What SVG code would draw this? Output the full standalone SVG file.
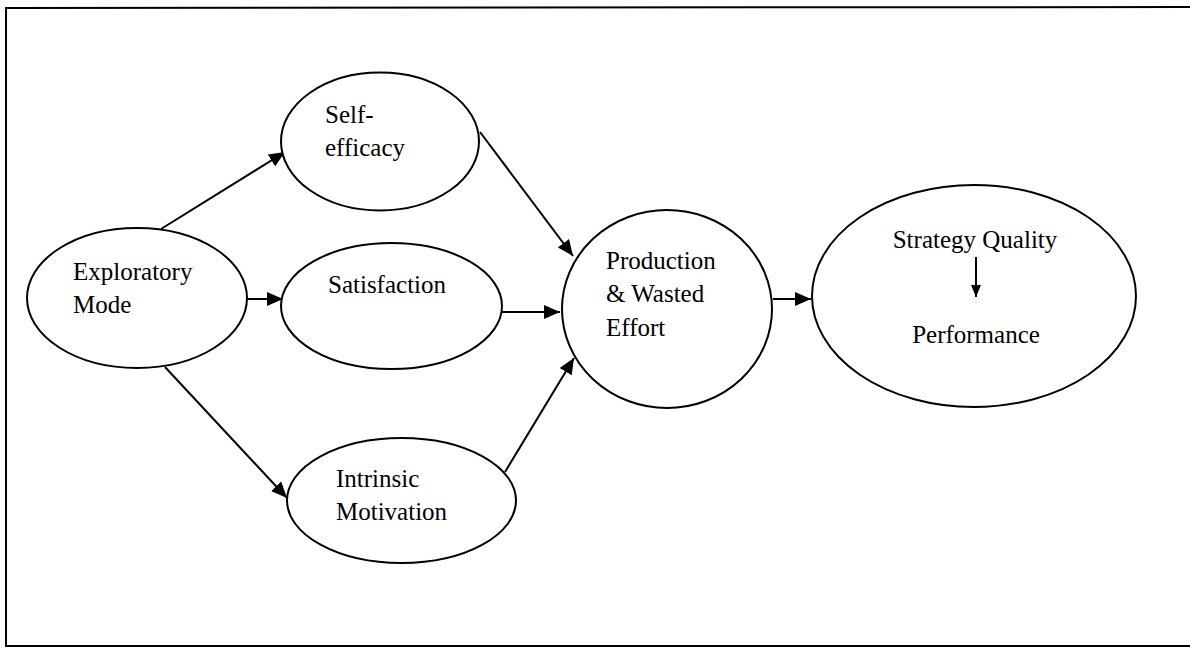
<svg xmlns="http://www.w3.org/2000/svg" width="1190" height="648" viewBox="0 0 1190 648">
<style>
.n{fill:#fff;stroke:#000;stroke-width:2}
.t{font-family:"Liberation Serif","Times New Roman",serif;font-size:25px;fill:#000}
.c{stroke:#000;stroke-width:2;fill:none;marker-end:url(#ah)}
</style>
<defs>
<marker id="ah" viewBox="0 0 16 14" refX="16" refY="7" markerWidth="16" markerHeight="14" markerUnits="userSpaceOnUse" orient="auto">
<path d="M0,0 L16,7 L0,14 Z" fill="#000"/>
</marker>
<marker id="ah2" viewBox="0 0 12 10" refX="12" refY="5" markerWidth="12" markerHeight="10" markerUnits="userSpaceOnUse" orient="auto">
<path d="M0,0 L12,5 L0,10 Z" fill="#000"/>
</marker>
</defs>
<rect width="1190" height="648" fill="#fff"/>
<path d="M1190,7 L6,8 L6,646 L1190,646" fill="none" stroke="#000" stroke-width="2"/>
<g id="connectors">
<line class="c" x1="161" y1="229" x2="285" y2="152"/>
<line class="c" x1="247" y1="299" x2="283" y2="299"/>
<line class="c" x1="480" y1="132" x2="573" y2="256"/>
<line class="c" x1="502" y1="312" x2="560" y2="312"/>
<line class="c" x1="165" y1="367" x2="287" y2="498"/>
<line class="c" x1="505" y1="472" x2="574" y2="358"/>
<line class="c" x1="773" y1="299" x2="811" y2="299"/>
</g>
<g id="exploratory">
<ellipse class="n" cx="137" cy="298" rx="110" ry="70"/>
<text class="t" x="73" y="280">Exploratory</text>
<text class="t" x="73" y="313">Mode</text>
</g>
<g id="selfefficacy">
<ellipse class="n" cx="380" cy="141.5" rx="99" ry="69"/>
<text class="t" x="325" y="123">Self-</text>
<text class="t" x="325" y="156">efficacy</text>
</g>
<g id="satisfaction">
<ellipse class="n" cx="391.5" cy="306" rx="110.5" ry="63"/>
<text class="t" x="328" y="293">Satisfaction</text>
</g>
<g id="intrinsic">
<ellipse class="n" cx="401.5" cy="500.5" rx="114.5" ry="62.5"/>
<text class="t" x="336" y="487">Intrinsic</text>
<text class="t" x="336" y="520">Motivation</text>
</g>
<g id="production">
<ellipse class="n" cx="667" cy="309" rx="105" ry="99"/>
<text class="t" x="606" y="269">Production</text>
<text class="t" x="606" y="302">&amp; Wasted</text>
<text class="t" x="606" y="336">Effort</text>
</g>
<g id="strategy">
<ellipse class="n" cx="974" cy="296" rx="162" ry="111"/>
<text class="t" x="975" y="248" text-anchor="middle">Strategy Quality</text>
<line x1="976" y1="257" x2="976" y2="297" stroke="#000" stroke-width="2" marker-end="url(#ah2)"/>
<text class="t" x="976" y="343" text-anchor="middle">Performance</text>
</g>
</svg>
